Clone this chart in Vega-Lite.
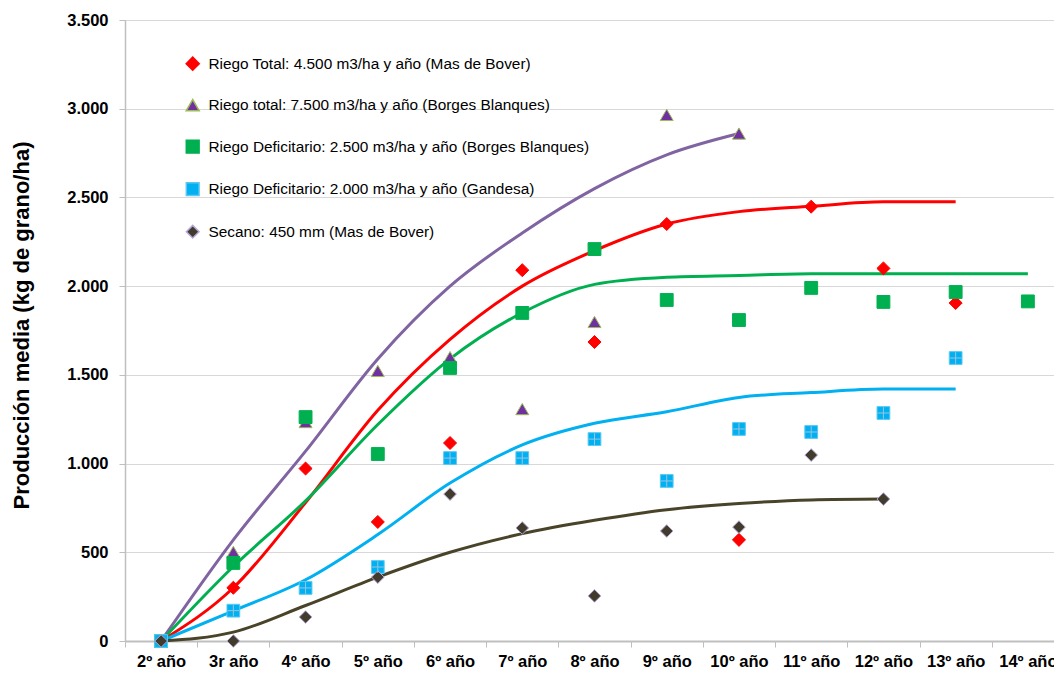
{
  "$schema": "https://vega.github.io/schema/vega-lite/v6.json",
  "width": 929,
  "height": 621,
  "autosize": {"type": "none"},
  "padding": {"left": 125, "top": 20, "right": 0, "bottom": 32},
  "background": "white",
  "config": {
    "view": {"stroke": null},
    "font": "Liberation Sans",
    "legend": {
      "orient": "none",
      "legendX": 60,
      "legendY": 36,
      "padding": 0,
      "labelFont": "Liberation Sans",
      "labelFontSize": 15.4,
      "labelColor": "#000000",
      "labelOffset": 8,
      "rowPadding": 22.5,
      "labelLimit": 600
    }
  },
  "datasets": {
    "curvas": [
      {"curva": "Riego Total 4.500", "anio": "2º año", "valor": 0},
      {"curva": "Riego Total 4.500", "anio": "3r año", "valor": 300},
      {"curva": "Riego Total 4.500", "anio": "4º año", "valor": 780},
      {"curva": "Riego Total 4.500", "anio": "5º año", "valor": 1300},
      {"curva": "Riego Total 4.500", "anio": "6º año", "valor": 1700},
      {"curva": "Riego Total 4.500", "anio": "7º año", "valor": 2000},
      {"curva": "Riego Total 4.500", "anio": "8º año", "valor": 2200},
      {"curva": "Riego Total 4.500", "anio": "9º año", "valor": 2350},
      {"curva": "Riego Total 4.500", "anio": "10º año", "valor": 2420},
      {"curva": "Riego Total 4.500", "anio": "11º año", "valor": 2450},
      {"curva": "Riego Total 4.500", "anio": "12º año", "valor": 2475},
      {"curva": "Riego Total 4.500", "anio": "13º año", "valor": 2475},
      {"curva": "Riego total 7.500", "anio": "2º año", "valor": 0},
      {"curva": "Riego total 7.500", "anio": "3r año", "valor": 570},
      {"curva": "Riego total 7.500", "anio": "4º año", "valor": 1070},
      {"curva": "Riego total 7.500", "anio": "5º año", "valor": 1590},
      {"curva": "Riego total 7.500", "anio": "6º año", "valor": 2000},
      {"curva": "Riego total 7.500", "anio": "7º año", "valor": 2300},
      {"curva": "Riego total 7.500", "anio": "8º año", "valor": 2550},
      {"curva": "Riego total 7.500", "anio": "9º año", "valor": 2740},
      {"curva": "Riego total 7.500", "anio": "10º año", "valor": 2860},
      {"curva": "Deficitario 2.500", "anio": "2º año", "valor": 0},
      {"curva": "Deficitario 2.500", "anio": "3r año", "valor": 420},
      {"curva": "Deficitario 2.500", "anio": "4º año", "valor": 790},
      {"curva": "Deficitario 2.500", "anio": "5º año", "valor": 1220},
      {"curva": "Deficitario 2.500", "anio": "6º año", "valor": 1590},
      {"curva": "Deficitario 2.500", "anio": "7º año", "valor": 1850},
      {"curva": "Deficitario 2.500", "anio": "8º año", "valor": 2010},
      {"curva": "Deficitario 2.500", "anio": "9º año", "valor": 2050},
      {"curva": "Deficitario 2.500", "anio": "10º año", "valor": 2060},
      {"curva": "Deficitario 2.500", "anio": "11º año", "valor": 2070},
      {"curva": "Deficitario 2.500", "anio": "12º año", "valor": 2070},
      {"curva": "Deficitario 2.500", "anio": "13º año", "valor": 2070},
      {"curva": "Deficitario 2.500", "anio": "14º año", "valor": 2070},
      {"curva": "Deficitario 2.000", "anio": "2º año", "valor": 0},
      {"curva": "Deficitario 2.000", "anio": "3r año", "valor": 170},
      {"curva": "Deficitario 2.000", "anio": "4º año", "valor": 345},
      {"curva": "Deficitario 2.000", "anio": "5º año", "valor": 600},
      {"curva": "Deficitario 2.000", "anio": "6º año", "valor": 890},
      {"curva": "Deficitario 2.000", "anio": "7º año", "valor": 1105},
      {"curva": "Deficitario 2.000", "anio": "8º año", "valor": 1227},
      {"curva": "Deficitario 2.000", "anio": "9º año", "valor": 1292},
      {"curva": "Deficitario 2.000", "anio": "10º año", "valor": 1373},
      {"curva": "Deficitario 2.000", "anio": "11º año", "valor": 1400},
      {"curva": "Deficitario 2.000", "anio": "12º año", "valor": 1420},
      {"curva": "Deficitario 2.000", "anio": "13º año", "valor": 1420},
      {"curva": "Secano 450", "anio": "2º año", "valor": 0},
      {"curva": "Secano 450", "anio": "3r año", "valor": 50},
      {"curva": "Secano 450", "anio": "4º año", "valor": 200},
      {"curva": "Secano 450", "anio": "5º año", "valor": 360},
      {"curva": "Secano 450", "anio": "6º año", "valor": 500},
      {"curva": "Secano 450", "anio": "7º año", "valor": 605},
      {"curva": "Secano 450", "anio": "8º año", "valor": 680},
      {"curva": "Secano 450", "anio": "9º año", "valor": 740},
      {"curva": "Secano 450", "anio": "10º año", "valor": 775},
      {"curva": "Secano 450", "anio": "11º año", "valor": 795},
      {"curva": "Secano 450", "anio": "12º año", "valor": 800}
    ],
    "puntos": [
      {"serie": "Riego Total: 4.500 m3/ha y año (Mas de Bover)", "anio": "2º año", "valor": 0},
      {"serie": "Riego Total: 4.500 m3/ha y año (Mas de Bover)", "anio": "3r año", "valor": 300},
      {"serie": "Riego Total: 4.500 m3/ha y año (Mas de Bover)", "anio": "4º año", "valor": 972},
      {"serie": "Riego Total: 4.500 m3/ha y año (Mas de Bover)", "anio": "5º año", "valor": 671},
      {"serie": "Riego Total: 4.500 m3/ha y año (Mas de Bover)", "anio": "6º año", "valor": 1116},
      {"serie": "Riego Total: 4.500 m3/ha y año (Mas de Bover)", "anio": "7º año", "valor": 2090},
      {"serie": "Riego Total: 4.500 m3/ha y año (Mas de Bover)", "anio": "8º año", "valor": 1685},
      {"serie": "Riego Total: 4.500 m3/ha y año (Mas de Bover)", "anio": "9º año", "valor": 2350},
      {"serie": "Riego Total: 4.500 m3/ha y año (Mas de Bover)", "anio": "10º año", "valor": 570},
      {"serie": "Riego Total: 4.500 m3/ha y año (Mas de Bover)", "anio": "11º año", "valor": 2448},
      {"serie": "Riego Total: 4.500 m3/ha y año (Mas de Bover)", "anio": "12º año", "valor": 2100},
      {"serie": "Riego Total: 4.500 m3/ha y año (Mas de Bover)", "anio": "13º año", "valor": 1905},
      {"serie": "Riego total: 7.500 m3/ha y año (Borges Blanques)", "anio": "2º año", "valor": 0},
      {"serie": "Riego total: 7.500 m3/ha y año (Borges Blanques)", "anio": "3r año", "valor": 502},
      {"serie": "Riego total: 7.500 m3/ha y año (Borges Blanques)", "anio": "4º año", "valor": 1234},
      {"serie": "Riego total: 7.500 m3/ha y año (Borges Blanques)", "anio": "5º año", "valor": 1522},
      {"serie": "Riego total: 7.500 m3/ha y año (Borges Blanques)", "anio": "6º año", "valor": 1600},
      {"serie": "Riego total: 7.500 m3/ha y año (Borges Blanques)", "anio": "7º año", "valor": 1307},
      {"serie": "Riego total: 7.500 m3/ha y año (Borges Blanques)", "anio": "8º año", "valor": 1798},
      {"serie": "Riego total: 7.500 m3/ha y año (Borges Blanques)", "anio": "9º año", "valor": 2965},
      {"serie": "Riego total: 7.500 m3/ha y año (Borges Blanques)", "anio": "10º año", "valor": 2860},
      {"serie": "Riego Deficitario: 2.500 m3/ha y año (Borges Blanques)", "anio": "2º año", "valor": 0},
      {"serie": "Riego Deficitario: 2.500 m3/ha y año (Borges Blanques)", "anio": "3r año", "valor": 440},
      {"serie": "Riego Deficitario: 2.500 m3/ha y año (Borges Blanques)", "anio": "4º año", "valor": 1262},
      {"serie": "Riego Deficitario: 2.500 m3/ha y año (Borges Blanques)", "anio": "5º año", "valor": 1054},
      {"serie": "Riego Deficitario: 2.500 m3/ha y año (Borges Blanques)", "anio": "6º año", "valor": 1539},
      {"serie": "Riego Deficitario: 2.500 m3/ha y año (Borges Blanques)", "anio": "7º año", "valor": 1849},
      {"serie": "Riego Deficitario: 2.500 m3/ha y año (Borges Blanques)", "anio": "8º año", "valor": 2209},
      {"serie": "Riego Deficitario: 2.500 m3/ha y año (Borges Blanques)", "anio": "9º año", "valor": 1922},
      {"serie": "Riego Deficitario: 2.500 m3/ha y año (Borges Blanques)", "anio": "10º año", "valor": 1809},
      {"serie": "Riego Deficitario: 2.500 m3/ha y año (Borges Blanques)", "anio": "11º año", "valor": 1990},
      {"serie": "Riego Deficitario: 2.500 m3/ha y año (Borges Blanques)", "anio": "12º año", "valor": 1911},
      {"serie": "Riego Deficitario: 2.500 m3/ha y año (Borges Blanques)", "anio": "13º año", "valor": 1967},
      {"serie": "Riego Deficitario: 2.500 m3/ha y año (Borges Blanques)", "anio": "14º año", "valor": 1914},
      {"serie": "Riego Deficitario: 2.000 m3/ha y año (Gandesa)", "anio": "2º año", "valor": 0},
      {"serie": "Riego Deficitario: 2.000 m3/ha y año (Gandesa)", "anio": "3r año", "valor": 171},
      {"serie": "Riego Deficitario: 2.000 m3/ha y año (Gandesa)", "anio": "4º año", "valor": 299},
      {"serie": "Riego Deficitario: 2.000 m3/ha y año (Gandesa)", "anio": "5º año", "valor": 417},
      {"serie": "Riego Deficitario: 2.000 m3/ha y año (Gandesa)", "anio": "6º año", "valor": 1031},
      {"serie": "Riego Deficitario: 2.000 m3/ha y año (Gandesa)", "anio": "7º año", "valor": 1031},
      {"serie": "Riego Deficitario: 2.000 m3/ha y año (Gandesa)", "anio": "8º año", "valor": 1138},
      {"serie": "Riego Deficitario: 2.000 m3/ha y año (Gandesa)", "anio": "9º año", "valor": 902},
      {"serie": "Riego Deficitario: 2.000 m3/ha y año (Gandesa)", "anio": "10º año", "valor": 1195},
      {"serie": "Riego Deficitario: 2.000 m3/ha y año (Gandesa)", "anio": "11º año", "valor": 1178},
      {"serie": "Riego Deficitario: 2.000 m3/ha y año (Gandesa)", "anio": "12º año", "valor": 1285},
      {"serie": "Riego Deficitario: 2.000 m3/ha y año (Gandesa)", "anio": "13º año", "valor": 1595},
      {"serie": "Secano: 450 mm (Mas de Bover)", "anio": "2º año", "valor": 0},
      {"serie": "Secano: 450 mm (Mas de Bover)", "anio": "3r año", "valor": 0},
      {"serie": "Secano: 450 mm (Mas de Bover)", "anio": "4º año", "valor": 135},
      {"serie": "Secano: 450 mm (Mas de Bover)", "anio": "5º año", "valor": 360},
      {"serie": "Secano: 450 mm (Mas de Bover)", "anio": "6º año", "valor": 828},
      {"serie": "Secano: 450 mm (Mas de Bover)", "anio": "7º año", "valor": 637},
      {"serie": "Secano: 450 mm (Mas de Bover)", "anio": "8º año", "valor": 254},
      {"serie": "Secano: 450 mm (Mas de Bover)", "anio": "9º año", "valor": 620},
      {"serie": "Secano: 450 mm (Mas de Bover)", "anio": "10º año", "valor": 642},
      {"serie": "Secano: 450 mm (Mas de Bover)", "anio": "11º año", "valor": 1048},
      {"serie": "Secano: 450 mm (Mas de Bover)", "anio": "12º año", "valor": 800}
    ]
  },
  "encoding": {
    "x": {
      "field": "anio",
      "type": "ordinal",
      "sort": ["2º año", "3r año", "4º año", "5º año", "6º año", "7º año", "8º año", "9º año", "10º año", "11º año", "12º año", "13º año", "14º año"],
      "scale": {
        "type": "band",
        "domain": ["2º año", "3r año", "4º año", "5º año", "6º año", "7º año", "8º año", "9º año", "10º año", "11º año", "12º año", "13º año", "14º año"],
        "range": [0, 939],
        "paddingInner": 0,
        "paddingOuter": 0
      },
      "axis": {
        "title": null,
        "labelAngle": 0,
        "labelFont": "Liberation Sans",
        "labelFontWeight": "bold",
        "labelFontSize": 16.5,
        "labelColor": "#000000",
        "labelPadding": 6,
        "labelBound": false,
        "labelOverlap": false,
        "tickBand": "extent",
        "tickSize": 6,
        "tickColor": "#bfbfbf",
        "tickWidth": 1,
        "domainColor": "#bfbfbf",
        "domainWidth": 2,
        "grid": false
      }
    },
    "y": {
      "field": "valor",
      "type": "quantitative",
      "scale": {"domain": [0, 3500], "nice": false},
      "axis": {
        "title": "Producción media (kg de grano/ha)",
        "titleFont": "Liberation Sans",
        "titleFontWeight": "bold",
        "titleFontSize": 22,
        "titleColor": "#000000",
        "titleAngle": 270,
        "titleAlign": "center",
        "titleBaseline": "middle",
        "titleX": -104,
        "titleY": 305,
        "values": [0, 500, 1000, 1500, 2000, 2500, 3000, 3500],
        "labelExpr": "replace(format(datum.value, ','), ',', '.')",
        "labelFont": "Liberation Sans",
        "labelFontWeight": "bold",
        "labelFontSize": 16.5,
        "labelColor": "#000000",
        "labelPadding": 11,
        "tickSize": 6,
        "tickColor": "#bfbfbf",
        "domainColor": "#bfbfbf",
        "domainWidth": 1.5,
        "grid": true,
        "gridColor": "#b0b0b0",
        "gridDash": [1, 1],
        "gridWidth": 1
      }
    }
  },
  "layer": [
    {
      "data": {"name": "curvas"},
      "mark": {"type": "line", "interpolate": "monotone", "strokeWidth": 3},
      "encoding": {
        "color": {
          "field": "curva",
          "type": "nominal",
          "scale": {
            "domain": ["Riego Total 4.500", "Riego total 7.500", "Deficitario 2.500", "Deficitario 2.000", "Secano 450"],
            "range": ["#ff0000", "#8064a2", "#00b050", "#00b0f0", "#494429"]
          },
          "legend": null
        }
      }
    },
    {
      "data": {"name": "puntos"},
      "mark": {"type": "point", "filled": true, "strokeWidth": 1, "opacity": 1},
      "encoding": {
        "fill": {
          "field": "serie",
          "type": "nominal",
          "title": null,
          "scale": {
            "domain": ["Riego Total: 4.500 m3/ha y año (Mas de Bover)", "Riego total: 7.500 m3/ha y año (Borges Blanques)", "Riego Deficitario: 2.500 m3/ha y año (Borges Blanques)", "Riego Deficitario: 2.000 m3/ha y año (Gandesa)", "Secano: 450 mm (Mas de Bover)"],
            "range": ["#ff0000", "#7030a0", "#00b050", "#00b0f0", "#403b2c"]
          }
        },
        "shape": {
          "field": "serie",
          "type": "nominal",
          "title": null,
          "scale": {
            "domain": ["Riego Total: 4.500 m3/ha y año (Mas de Bover)", "Riego total: 7.500 m3/ha y año (Borges Blanques)", "Riego Deficitario: 2.500 m3/ha y año (Borges Blanques)", "Riego Deficitario: 2.000 m3/ha y año (Gandesa)", "Secano: 450 mm (Mas de Bover)"],
            "range": ["diamond", "triangle-up", "square", "square", "diamond"]
          }
        },
        "size": {
          "field": "serie",
          "type": "nominal",
          "title": null,
          "scale": {
            "domain": ["Riego Total: 4.500 m3/ha y año (Mas de Bover)", "Riego total: 7.500 m3/ha y año (Borges Blanques)", "Riego Deficitario: 2.500 m3/ha y año (Borges Blanques)", "Riego Deficitario: 2.000 m3/ha y año (Gandesa)", "Secano: 450 mm (Mas de Bover)"],
            "range": [170, 160, 150, 150, 80]
          }
        },
        "stroke": {
          "field": "serie",
          "type": "nominal",
          "title": null,
          "scale": {
            "domain": ["Riego Total: 4.500 m3/ha y año (Mas de Bover)", "Riego total: 7.500 m3/ha y año (Borges Blanques)", "Riego Deficitario: 2.500 m3/ha y año (Borges Blanques)", "Riego Deficitario: 2.000 m3/ha y año (Gandesa)", "Secano: 450 mm (Mas de Bover)"],
            "range": ["#ff0000", "#9bbb59", "#00b050", "#5cc8f2", "#b4a7d6"]
          }
        }
      }
    },
    {
      "data": {"name": "puntos"},
      "transform": [{"filter": "datum.serie === 'Riego Deficitario: 2.000 m3/ha y año (Gandesa)' && datum.anio !== '2º año'"}],
      "mark": {"type": "point", "shape": "M-0.95,0L0.95,0M0,-0.95L0,0.95", "size": 150, "filled": false, "stroke": "#9cc3e0", "strokeWidth": 1, "opacity": 1}
    }
  ]
}
